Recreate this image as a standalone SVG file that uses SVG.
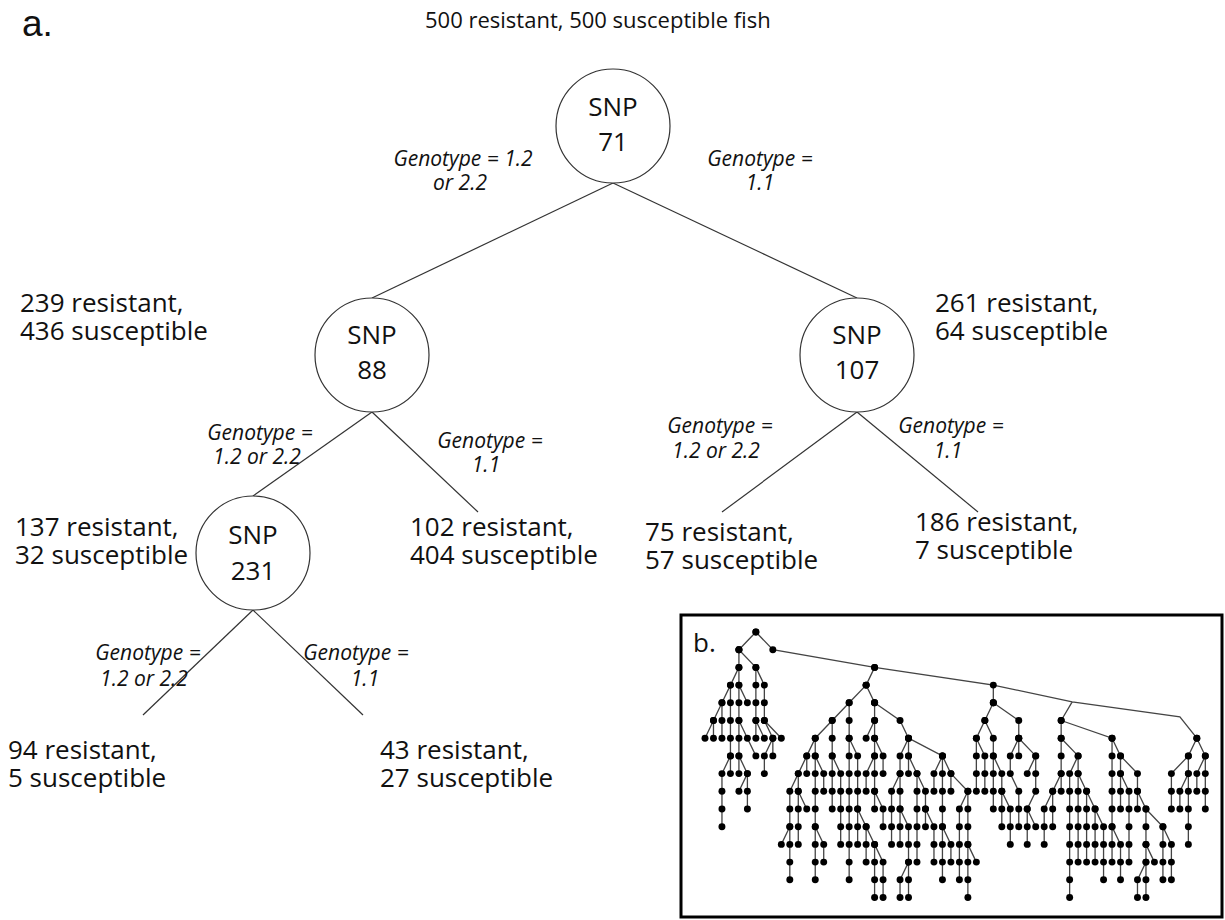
<svg xmlns="http://www.w3.org/2000/svg" width="1225" height="920" viewBox="0 0 1225 920">
  <style>
    text { font-family: "Open Sans", "Noto Sans", "Liberation Sans", sans-serif; fill: #111; }
    .panel { font-family: "Liberation Sans", "Open Sans", sans-serif; }
    .lbl { font-size: 26px; }
    .ttl { font-size: 22px; }
    .snp { font-size: 26px; text-anchor: middle; }
    .gt { font-size: 21px; font-style: italic; text-anchor: middle; }
    .node { fill: #fff; stroke: #333; stroke-width: 1.2; }
    .conn line { stroke: #333; stroke-width: 1.2; }
    .edges { fill: none; stroke: #444; stroke-width: 1.3; vector-effect: non-scaling-stroke; }
    .dotted { marker-start: url(#dot); marker-mid: url(#dot); marker-end: url(#dot); }
  </style>
  <defs>
    <!-- node dot for the small tree; its radii are given in grid units so it stays round -->
    <marker id="dot" markerUnits="userSpaceOnUse" markerWidth="1" markerHeight="1" overflow="visible" orient="0">
      <ellipse rx="0.41" ry="0.195" fill="#000"/>
    </marker>
  </defs>
  <rect width="1225" height="920" fill="#fff"/>

  <!-- panel a: decision tree -->
  <text class="panel" x="22" y="36" style="font-size:37px">a.</text>
  <text id="root-count" class="ttl" x="425" y="28">500 resistant, 500 susceptible fish</text>

  <g id="connectors" class="conn">
    <line x1="613" y1="183" x2="372" y2="298"/>
    <line x1="613" y1="183" x2="857" y2="298"/>
    <line x1="372" y1="412" x2="253" y2="496"/>
    <line x1="372" y1="412" x2="478" y2="512"/>
    <line x1="857" y1="412" x2="722" y2="512"/>
    <line x1="857" y1="412" x2="978" y2="512"/>
    <line x1="253" y1="610" x2="143" y2="715"/>
    <line x1="253" y1="610" x2="363" y2="715"/>
  </g>

  <g id="split-labels">
    <text class="gt" x="463" y="166">Genotype = 1.2<tspan x="460" dy="24">or 2.2</tspan></text>
    <text class="gt" x="760" y="166">Genotype =<tspan x="760" dy="24">1.1</tspan></text>
    <text class="gt" x="260" y="440">Genotype =<tspan x="257" dy="24">1.2 or 2.2</tspan></text>
    <text class="gt" x="490" y="448">Genotype =<tspan x="486" dy="24">1.1</tspan></text>
    <text class="gt" x="720" y="433">Genotype =<tspan x="716" dy="25">1.2 or 2.2</tspan></text>
    <text class="gt" x="951" y="433">Genotype =<tspan x="948" dy="25">1.1</tspan></text>
    <text class="gt" x="148" y="660">Genotype =<tspan x="144" dy="26">1.2 or 2.2</tspan></text>
    <text class="gt" x="356" y="660">Genotype =<tspan x="365" dy="26">1.1</tspan></text>
  </g>

  <g id="node-snp71">
    <circle class="node" cx="613" cy="126" r="57"/>
    <text class="snp" x="613" y="116">SNP<tspan x="613" dy="35">71</tspan></text>
  </g>
  <g id="node-snp88">
    <circle class="node" cx="372" cy="355" r="57"/>
    <text class="snp" x="372" y="344">SNP<tspan x="372" dy="35">88</tspan></text>
    <text class="lbl" x="20" y="312">239 resistant,<tspan x="20" dy="28">436 susceptible</tspan></text>
  </g>
  <g id="node-snp107">
    <circle class="node" cx="857" cy="355" r="57"/>
    <text class="snp" x="857" y="344">SNP<tspan x="857" dy="35">107</tspan></text>
    <text class="lbl" x="935" y="312">261 resistant,<tspan x="935" dy="28">64 susceptible</tspan></text>
  </g>
  <g id="node-snp231">
    <circle class="node" cx="253" cy="553" r="57"/>
    <text class="snp" x="253" y="544">SNP<tspan x="253" dy="36">231</tspan></text>
    <text class="lbl" x="15" y="536">137 resistant,<tspan x="15" dy="28">32 susceptible</tspan></text>
  </g>
  <g id="leaf-102">
    <text class="lbl" x="410" y="536">102 resistant,<tspan x="410" dy="28">404 susceptible</tspan></text>
  </g>
  <g id="leaf-75">
    <text class="lbl" x="645" y="541">75 resistant,<tspan x="645" dy="28">57 susceptible</tspan></text>
  </g>
  <g id="leaf-186">
    <text class="lbl" x="915" y="531">186 resistant,<tspan x="915" dy="28">7 susceptible</tspan></text>
  </g>
  <g id="leaf-94">
    <text class="lbl" x="8" y="759">94 resistant,<tspan x="8" dy="28">5 susceptible</tspan></text>
  </g>
  <g id="leaf-43">
    <text class="lbl" x="380" y="759">43 resistant,<tspan x="380" dy="28">27 susceptible</tspan></text>
  </g>

  <!-- panel b: full tree, drawn on a grid of columns (8.48px) and depth levels (17.7px) -->
  <g id="panel-b">
    <rect x="681" y="615" width="541" height="302" fill="none" stroke="#000" stroke-width="3"/>
    <text x="693" y="652" style="font-size:26px">b.</text>
    <g transform="translate(705 632) scale(8.48 17.7)">
      <!-- spine: bends carry no dot -->
      <path class="edges" d="M34 3L43.3 3.95L56 4.8L58 6M43.3 3.95L42 5"/>
      <path class="edges dotted" d="M6 0L4 1M6 0L8 1L20 2L34 3L34 4M20 2L19 3"/>
      <!-- left branch -->
      <path class="edges dotted" d="M4 1V2L3 3L2 4L1 5L0 6M1 5V6M2 4V5V6M3 3V4V5V6V7L2 8V9V10V11M3 7V8M4 2V3V4V5V6V7V8M4 1L6 2V3V4V5V6M6 2L7 3V4V5L8 6L7 7V8M8 6V7M7 5L9 6M4 3L5 4M4 5L5 6L6 7M6 5L7 6M4 7L5 8V9V10M5 8L4 9"/>
      <!-- second branch -->
      <path class="edges dotted" d="M19 3L17 4L15 5L13 6L12 7L11 8L10 9V10V11L9 12M19 3L20 4M10 11V12V13V14M11 8V9V10V11V12M11 9L12 10M12 7V8M13 6V7V8V9V10V11V12V13V14M13 7L14 8V9M13 11L14 12V13M15 5V6V7V8V9V10M15 7L16 8V9V10V11V12M17 4V5V6V7V8V9V10V11V12V13V14M17 6L18 7V8V9V10V11V12M18 10L19 11V12V13M20 4V5V6V7V8V9V10M20 5L19 6M20 7L19 8V9M20 6L21 7V8M20 9L21 10V11M19 11L20 12V13V14V15M20 12L21 13V14V15M20 4L23 5L24 6L23 7V8V9V10V11V12M24 6V7V8M24 6L28 7V8V9V10V11V12V13V14M23 8L22 9V10V11V12M24 7L25 8V9V10V11V12V13M23 10L24 11V12V13V14V15M24 13L23 14V15M25 8L26 9V10V11M26 10L27 11V12V13M28 7L27 8V9M28 7L29 8V9M29 8L31 9V10V11V12V13V14V15M31 9L30 10V11V12V13V14M28 11L29 12V13M31 12L32 13"/>
      <!-- third branch -->
      <path class="edges dotted" d="M34 4L33 5L32 6V7V8V9M32 6L33 7V8V9M33 5L34 6V7V8V9V10M34 7L35 8V9V10V11M35 9L36 10V11V12M34 4L37 5V6L36 7V8L37 9V10V11M37 6V7M37 6L39 7V8V9L38 10V11V12M39 7L38 8M38 10L39 11"/>
      <!-- fourth branch -->
      <path class="edges dotted" d="M42 5V6V7V8V9M42 6L44 7V8V9V10V11V12V13M42 8L41 9L40 10V11V12M41 9V10V11M44 7L43 8V9V10V11V12V13V14V15M44 8L45 9V10V11V12V13M45 9L46 10V11V12V13M46 10L47 11V12V13V14M42 5L48 6V7V8V9V10V11V12V13M48 6L49 7V8V9V10M48 11L49 12V13V14M49 7L51 8V9V10M49 8L50 9V10V11V12V13M51 9L52 10V11V12V13V14V15M52 10L54 11V12V13V14M54 11L55 12V13V14M52 12L53 13M52 13L51 14V15"/>
      <!-- right branch -->
      <path class="edges dotted" d="M58 6L57 7L55 8V9V10M57 7V8V9V10V11V12M57 8L56 9V10M58 6L59 7L58 8V9M59 7V8V9V10"/>
    </g>
  </g>
</svg>
